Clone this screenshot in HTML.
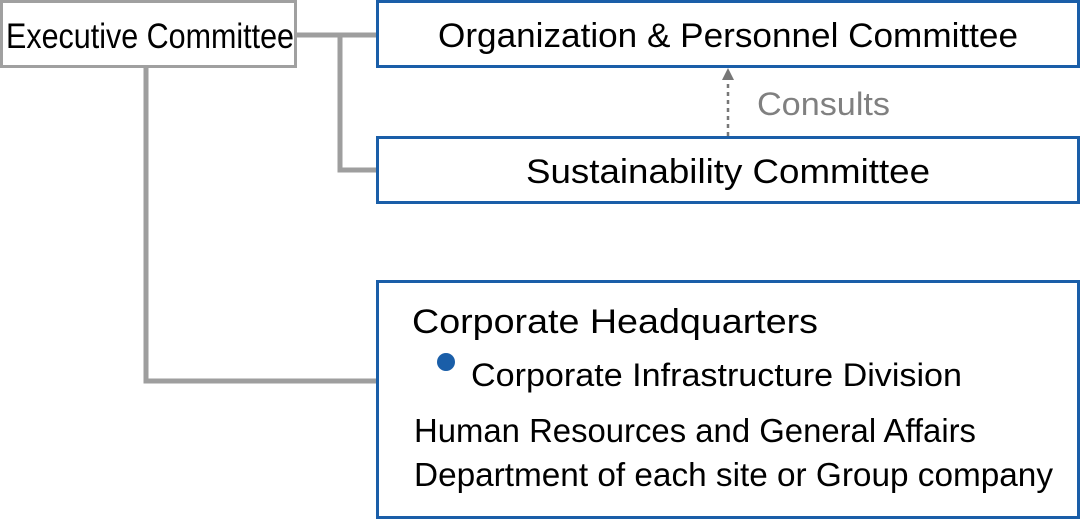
<!DOCTYPE html>
<html><head><meta charset="utf-8"><style>html,body{margin:0;padding:0;background:#fff}svg{display:block}</style></head>
<body>
<svg width="1080" height="519" viewBox="0 0 1080 519" xmlns="http://www.w3.org/2000/svg" font-family="Liberation Sans, sans-serif">
<g fill="none" stroke="#9e9e9e" stroke-width="5">
<line x1="297" y1="35" x2="378" y2="35"/>
<polyline points="340,35 340,170 378,170"/>
<polyline points="146,68 146,381 378,381"/>
</g>
<rect x="1.5" y="1.5" width="294" height="65" fill="#fff" stroke="#a0a0a0" stroke-width="3"/>
<g fill="#fff" stroke="#1a5ea8" stroke-width="3">
<rect x="377.5" y="1.5" width="701" height="65"/>
<rect x="377.5" y="137.5" width="701" height="65"/>
<rect x="377.5" y="281.5" width="701" height="236"/>
</g>
<line x1="728" y1="136" x2="728" y2="80" stroke="#777" stroke-width="2.5" stroke-dasharray="4,4"/>
<polygon points="728,68 722,80 734,80" fill="#777"/>
<g fill="#000" font-size="34">
<text x="6" y="48" font-size="35" textLength="288" lengthAdjust="spacingAndGlyphs">Executive Committee</text>
<text x="438" y="47" textLength="580" lengthAdjust="spacingAndGlyphs">Organization &amp; Personnel Committee</text>
<text x="526" y="183" textLength="404" lengthAdjust="spacingAndGlyphs">Sustainability Committee</text>
<text x="412" y="333" textLength="406" lengthAdjust="spacingAndGlyphs">Corporate Headquarters</text>
<text x="471" y="386" font-size="32" textLength="491" lengthAdjust="spacingAndGlyphs">Corporate Infrastructure Division</text>
<text x="414" y="442" font-size="33" textLength="562" lengthAdjust="spacingAndGlyphs">Human Resources and General Affairs</text>
<text x="414" y="486" font-size="33" textLength="639" lengthAdjust="spacingAndGlyphs">Department of each site or Group company</text>
</g>
<text x="757" y="115" font-size="32" fill="#808080" textLength="133" lengthAdjust="spacingAndGlyphs">Consults</text>
<circle cx="446" cy="362" r="9" fill="#1a5ea8"/>
</svg>
</body></html>
